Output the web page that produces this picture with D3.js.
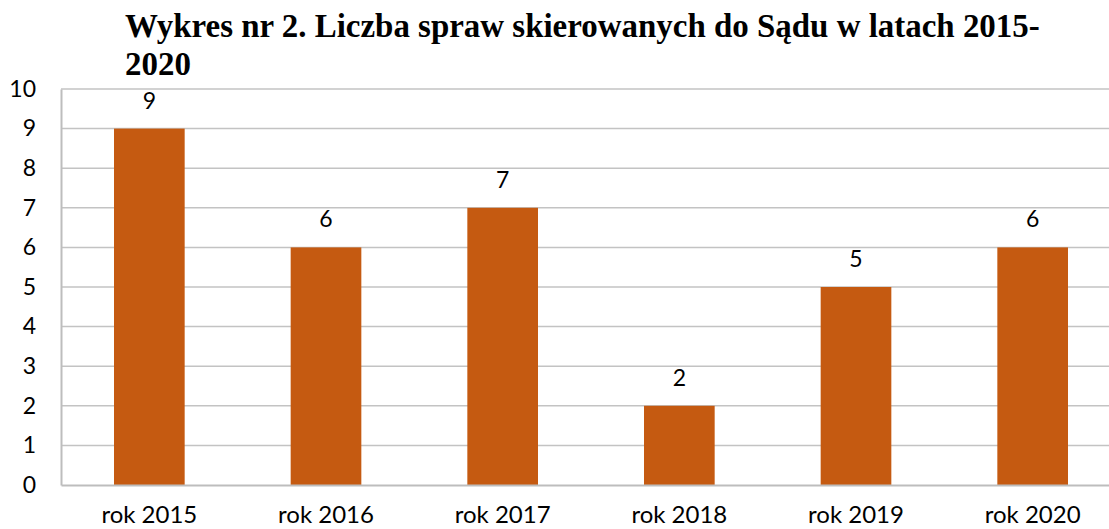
<!DOCTYPE html>
<html>
<head>
<meta charset="utf-8">
<script src="https://cdn.jsdelivr.net/npm/d3@7"></script>
<style>
  body { margin: 0; background: #fff; }
  svg { display: block; }
  .title { font-family: 'Liberation Serif', 'Times New Roman', Tinos, 'DejaVu Serif', serif; font-weight: bold; }
</style>
</head>
<body>
<svg id="chart"></svg>
<script>
const titleLines = ['Wykres nr 2. Liczba spraw skierowanych do Sądu w latach 2015-', '2020'];
const categories = ['rok 2015', 'rok 2016', 'rok 2017', 'rok 2018', 'rok 2019', 'rok 2020'];
const values = [9, 6, 7, 2, 5, 6];
const yTicks = [0, 1, 2, 3, 4, 5, 6, 7, 8, 9, 10];

const width = 1109;
const height = 529;
const margin = {top: 89, left: 61, bottom: 44};
// plot area runs a bit past the right edge of the picture, like the source
const plotRight = 1121;

const svg = d3.select('#chart')
    .attr('width', width)
    .attr('height', height);

const x = d3.scaleBand()
    .domain(categories)
    .range([margin.left, plotRight])
    .paddingInner(0.6)
    .paddingOuter(0.3);

const y = d3.scaleLinear()
    .domain([0, 10])
    .range([height - margin.bottom, margin.top]);

const labelFont = 'Lato, "Open Sans", sans-serif';

// gridlines
svg.append('g')
    .selectAll('line')
    .data(yTicks.filter((d) => d > 0))
    .enter().append('line')
    .attr('x1', margin.left)
    .attr('x2', plotRight)
    .attr('y1', (d) => y(d))
    .attr('y2', (d) => y(d))
    .attr('stroke', '#c3c3c3')
    .attr('stroke-width', 1.5);

// bars
svg.append('g')
    .selectAll('rect')
    .data(values)
    .enter().append('rect')
    .attr('x', (d, i) => x(categories[i]))
    .attr('y', (d) => y(d))
    .attr('width', x.bandwidth())
    .attr('height', (d) => y(0) - y(d))
    .attr('fill', '#c55a11');

// value labels
svg.append('g')
    .selectAll('text')
    .data(values)
    .enter().append('text')
    .attr('x', (d, i) => x(categories[i]) + x.bandwidth() / 2)
    .attr('y', (d) => y(d) - 20)
    .attr('text-anchor', 'middle')
    .attr('font-family', labelFont)
    .attr('font-size', 23)
    .attr('fill', '#000')
    .text((d) => d);

// y axis
const yAxis = svg.append('g')
    .attr('transform', `translate(${margin.left},0)`)
    .call(d3.axisLeft(y).tickValues(yTicks).tickSize(0).tickPadding(25));
yAxis.select('.domain').attr('stroke', '#bdbdbd').attr('stroke-width', 2);
yAxis.selectAll('text')
    .attr('font-family', labelFont)
    .attr('font-size', 23)
    .attr('fill', '#000');

// x axis
const xAxis = svg.append('g')
    .attr('transform', `translate(0,${y(0)})`)
    .call(d3.axisBottom(x).tickSize(0).tickPadding(21));
xAxis.select('.domain').attr('stroke', '#bdbdbd').attr('stroke-width', 2);
xAxis.selectAll('text')
    .attr('font-family', labelFont)
    .attr('font-size', 24)
    .attr('fill', '#000');

// title, first line sized to span the same width as the source
const title = svg.append('text')
    .attr('class', 'title')
    .attr('font-size', 29)
    .attr('fill', '#000');
title.selectAll('tspan')
    .data(titleLines)
    .enter().append('tspan')
    .attr('x', 125)
    .attr('y', (d, i) => 37 + i * 38)
    .text((d) => d);

const firstLine = title.select('tspan').node();
const w = firstLine.getComputedTextLength();
title.attr('font-size', 29 * 915 / w);
</script>
</body>
</html>
